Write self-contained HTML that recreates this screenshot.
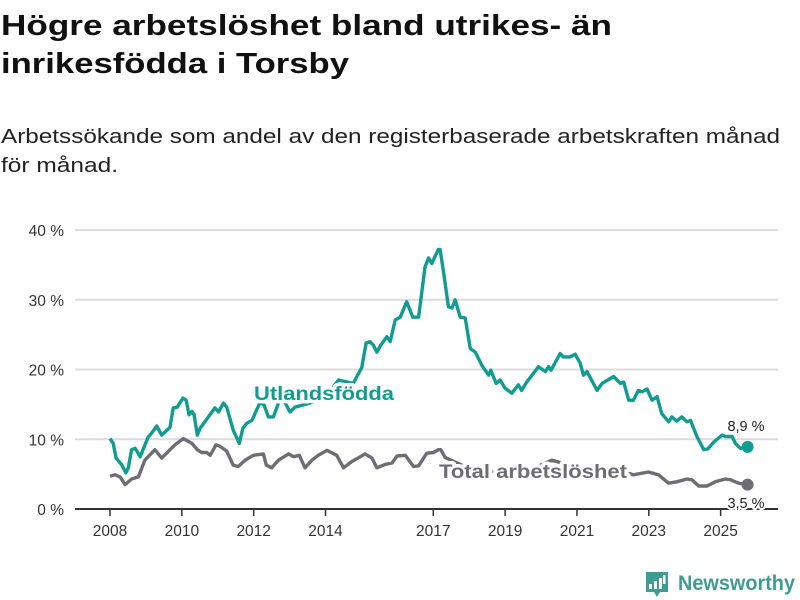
<!DOCTYPE html>
<html><head><meta charset="utf-8">
<style>
html,body{margin:0;padding:0;background:#fff;}
svg{display:block;font-family:"Liberation Sans","DejaVu Sans",sans-serif;}
</style></head>
<body>
<svg id="chart" width="800" height="600" viewBox="0 0 800 600" xmlns="http://www.w3.org/2000/svg">
<text x="1" y="35" font-size="29" font-weight="bold" fill="#111" textLength="611" lengthAdjust="spacingAndGlyphs">Högre arbetslöshet bland utrikes- än</text>
<text x="1" y="73" font-size="29" font-weight="bold" fill="#111" textLength="348" lengthAdjust="spacingAndGlyphs">inrikesfödda i Torsby</text>
<text x="1" y="143" font-size="20" fill="#222" textLength="779" lengthAdjust="spacingAndGlyphs">Arbetssökande som andel av den registerbaserade arbetskraften månad</text>
<text x="1" y="172" font-size="20" fill="#222" textLength="117" lengthAdjust="spacingAndGlyphs">för månad.</text>
<g id="grid"></g>
<g id="axes"></g>
<g id="series"></g>
<g id="labels"></g>
<g>
<path d="M646 572h22v20h-8l-3 5-3-5h-8z" fill="#3f9c8e"/>
<rect x="649" y="584" width="3" height="5" fill="#fff"/>
<rect x="654" y="581" width="3" height="8" fill="#fff"/>
<rect x="659" y="578" width="3" height="11" fill="#fff"/>
<rect x="663" y="575" width="2.5" height="9" fill="#fff"/>
<text x="678" y="590" font-size="21" font-weight="bold" fill="#3f9c8e" textLength="117" lengthAdjust="spacingAndGlyphs">Newsworthy</text>
</g>
</svg>
<script>
const yTicks = [0, 10, 20, 30, 40];
const yTickLabels = ["0 %", "10 %", "20 %", "30 %", "40 %"];
const xTicks = [2008, 2010, 2012, 2014, 2017, 2019, 2021, 2023, 2025];
const xTickLabels = ["2008", "2010", "2012", "2014", "2017", "2019", "2021", "2023", "2025"];
const foreignDates = [2008.00,2008.09,2008.17,2008.33,2008.44,2008.51,2008.60,2008.70,2008.84,2009.06,2009.16,2009.30,2009.44,2009.67,2009.76,2009.87,2010.03,2010.12,2010.20,2010.28,2010.34,2010.43,2010.51,2010.74,2010.92,2011.02,2011.16,2011.25,2011.43,2011.60,2011.70,2011.81,2011.95,2012.18,2012.29,2012.41,2012.55,2012.74,2012.87,2013.01,2013.15,2013.57,2013.99,2014.36,2014.77,2015.01,2015.13,2015.24,2015.33,2015.43,2015.54,2015.71,2015.80,2015.94,2016.08,2016.26,2016.43,2016.59,2016.77,2016.87,2016.96,2017.14,2017.19,2017.28,2017.42,2017.52,2017.61,2017.75,2017.89,2018.03,2018.17,2018.35,2018.54,2018.60,2018.75,2018.86,2019.00,2019.19,2019.37,2019.46,2019.60,2019.93,2020.12,2020.21,2020.28,2020.53,2020.62,2020.81,2020.95,2021.09,2021.18,2021.28,2021.56,2021.70,2022.02,2022.21,2022.30,2022.44,2022.57,2022.71,2022.81,2022.95,2023.09,2023.23,2023.36,2023.55,2023.64,2023.78,2023.92,2024.06,2024.16,2024.34,2024.53,2024.64,2024.81,2025.04,2025.13,2025.32,2025.41,2025.55,2025.75];
const foreignValues = [10.1,9.4,7.3,6.3,5.2,5.9,8.5,8.7,7.5,10.3,10.9,11.9,10.6,11.7,14.5,14.6,15.9,15.6,13.5,14.0,13.5,10.6,11.6,13.2,14.5,13.9,15.2,14.6,11.3,9.4,11.6,12.3,12.7,15.3,14.9,13.2,13.2,15.9,15.3,13.9,14.6,15.2,16.0,18.5,18.0,20.3,23.8,24.0,23.5,22.5,23.5,24.7,24.0,27.1,27.5,29.7,27.5,27.5,34.7,36.0,35.2,37.2,37.2,34.2,29.0,28.8,30.0,27.5,27.4,23.0,22.5,20.6,19.2,19.9,18.0,18.5,17.3,16.6,17.8,17.0,18.2,20.4,19.7,20.4,19.9,22.3,21.8,21.8,22.2,20.9,19.2,19.7,17.0,18.0,19.0,18.0,18.2,15.6,15.6,17.0,16.8,17.2,15.6,16.1,13.7,12.5,13.2,12.6,13.2,12.5,12.7,10.4,8.5,8.6,9.6,10.6,10.4,10.4,9.4,8.7,8.9];
const totalDates = [2008.00,2008.14,2008.28,2008.42,2008.60,2008.79,2008.97,2009.25,2009.44,2009.67,2009.81,2010.04,2010.28,2010.43,2010.55,2010.69,2010.79,2010.95,2011.06,2011.25,2011.43,2011.57,2011.76,2011.99,2012.27,2012.35,2012.50,2012.69,2012.97,2013.11,2013.27,2013.43,2013.62,2013.80,2014.04,2014.31,2014.50,2014.73,2014.87,2015.10,2015.29,2015.43,2015.66,2015.85,2015.99,2016.22,2016.45,2016.59,2016.82,2017.01,2017.14,2017.21,2017.33,2018.00,2018.80,2019.50,2020.30,2021.00,2021.70,2022.40,2022.57,2022.99,2023.27,2023.55,2023.78,2024.06,2024.20,2024.39,2024.62,2024.85,2025.13,2025.27,2025.50,2025.75];
const totalValues = [4.7,4.9,4.6,3.5,4.3,4.6,7.0,8.5,7.3,8.5,9.2,10.1,9.4,8.5,8.1,8.1,7.7,9.2,9.0,8.3,6.3,6.1,7.0,7.7,7.9,6.3,5.9,7.0,7.9,7.5,7.7,5.9,7.0,7.7,8.4,7.7,5.9,6.8,7.2,7.9,7.3,5.9,6.4,6.6,7.6,7.7,6.1,6.2,8.0,8.1,8.5,8.5,7.4,5.8,5.3,5.2,7.0,6.0,5.5,5.2,4.9,5.3,4.9,3.7,3.9,4.3,4.2,3.3,3.3,3.9,4.3,4.2,3.7,3.5];
const foreignLast = "8,9 %";
const totalLast = "3,5 %";

const NS = "http://www.w3.org/2000/svg";
const X0 = 75, X1 = 778, Y0 = 509;
function xScale(t){ return 110 + (t - 2008) * 35.92; }
function yScale(v){ return Y0 - v * 6.975; }
function mk(tag, attrs, parent){
  const e = document.createElementNS(NS, tag);
  for (const k in attrs) e.setAttribute(k, attrs[k]);
  parent.appendChild(e); return e;
}
const grid = document.getElementById('grid');
const axes = document.getElementById('axes');
const series = document.getElementById('series');
const labels = document.getElementById('labels');

yTicks.forEach((v, i) => {
  if (v > 0) {
    const l = mk('line', {x1: X0, x2: X1, y1: yScale(v), y2: yScale(v), stroke: '#dcdcdc', 'stroke-width': 2}, grid);
    
    
  }
  const t = mk('text', {x: 64, y: yScale(v) + 6, 'font-size': 15.5, fill: '#333', 'text-anchor': 'end'}, axes);
  t.textContent = yTickLabels[i];
  
  
});
const ax = mk('line', {x1: X0, x2: X1, y1: Y0, y2: Y0, stroke: '#333', 'stroke-width': 2}, axes);


xTicks.forEach((yr, i) => {
  const x = xScale(yr);
  const tk = mk('line', {x1: x, x2: x, y1: Y0, y2: Y0 + 7, stroke: '#333', 'stroke-width': 1.5}, axes);
  
  
  const t = mk('text', {x: x, y: Y0 + 27, 'font-size': 15.5, fill: '#333', 'text-anchor': 'middle'}, axes);
  t.textContent = xTickLabels[i];
  
  
});
function pathFor(ds, vs){
  return ds.map((d, i) => (i ? 'L' : 'M') + xScale(d).toFixed(1) + ' ' + yScale(vs[i]).toFixed(1)).join(' ');
}
const pt = mk('path', {d: pathFor(totalDates, totalValues), fill: 'none', stroke: '#6e6d72', 'stroke-width': 3.4, 'stroke-linejoin': 'round'}, series);


const pf = mk('path', {d: pathFor(foreignDates, foreignValues), fill: 'none', stroke: '#119c8f', 'stroke-width': 3.4, 'stroke-linejoin': 'round'}, series);


const fl = foreignDates.length - 1, tl = totalDates.length - 1;
const d1 = mk('circle', {cx: xScale(foreignDates[fl]), cy: yScale(foreignValues[fl]), r: 6, fill: '#119c8f'}, series);


const d2 = mk('circle', {cx: xScale(totalDates[tl]), cy: yScale(totalValues[tl]), r: 6, fill: '#6e6d72'}, series);



function halo(txt, attrs, name){
  const t = mk('text', Object.assign({stroke: '#fff', 'stroke-width': 7, 'paint-order': 'stroke', 'stroke-linejoin': 'round'}, attrs), labels);
  t.textContent = txt;
  
  
  return t;
}
halo('Utlandsfödda', {x: 254, y: 400, 'font-size': 19, 'font-weight': 'bold', fill: '#119c8f', textLength: 140, lengthAdjust: 'spacingAndGlyphs'}, 'foreign-born-label');
halo('Total arbetslöshet', {x: 439, y: 478, 'font-size': 19, 'font-weight': 'bold', fill: '#6e6d72', textLength: 188, lengthAdjust: 'spacingAndGlyphs'}, 'total-label');
halo(foreignLast, {x: 746, y: 431, 'font-size': 14.5, fill: '#222', 'text-anchor': 'middle', 'stroke-width': 4}, 'foreign-born-end-value');
halo(totalLast, {x: 746, y: 508, 'font-size': 14.5, fill: '#222', 'text-anchor': 'middle', 'stroke-width': 4}, 'total-end-value');
</script>
</body></html>
